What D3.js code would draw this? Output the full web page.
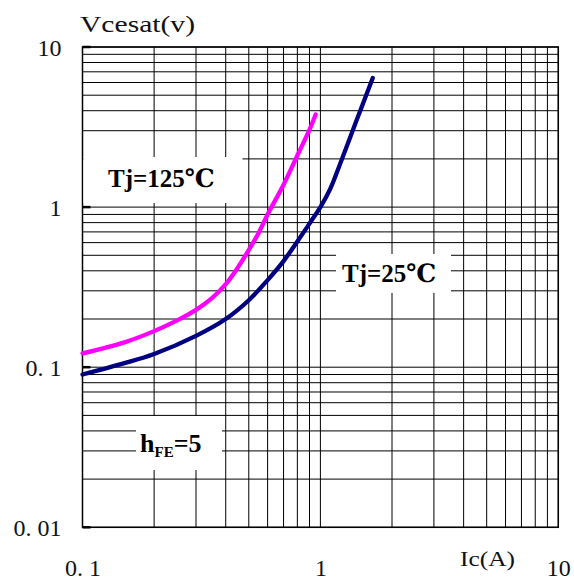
<!DOCTYPE html>
<html><head><meta charset="utf-8">
<script src="https://cdn.jsdelivr.net/npm/d3@7"></script>
<style>body{margin:0;background:#fff}</style>
</head><body>
<svg id="c" width="574" height="581"></svg>
<script>
// Data
const xTickValues = [0.1, 1, 10];
const xTickLabels = ["0. 1", "1", "10"];
const yTickValues = [0.01, 0.1, 1, 10];
const yTickLabels = ["0. 01", "0. 1", "1", "10"];
const icHot = [0.1, 0.15, 0.2, 0.25, 0.3, 0.35, 0.4, 0.45, 0.5, 0.55, 0.6, 0.7, 0.8, 0.9, 0.955];
const vHot  = [0.122, 0.143, 0.168, 0.196, 0.228, 0.27, 0.33, 0.42, 0.54, 0.69, 0.9, 1.38, 2.1, 3.05, 3.79];
const icCold = [0.1, 0.15, 0.2, 0.3, 0.4, 0.5, 0.6, 0.7, 0.8, 0.9, 1.0, 1.1, 1.2, 1.4, 1.66];
const vCold  = [0.090, 0.106, 0.121, 0.157, 0.20, 0.262, 0.35, 0.46, 0.61, 0.79, 1.0, 1.3, 1.8, 3.3, 6.4];

const svg = d3.select("#c");
const L = 82.5, R = 558.3, T = 47, B = 527.3;
const x = d3.scaleLog().domain([0.1, 10]).range([L, R]);
const y = d3.scaleLog().domain([0.01, 10]).range([B, T]);

const xGrid = [], yGrid = [];
for (let d = 0.1; d < 10; d *= 10) for (let k = 1; k <= 10; k++) xGrid.push(+(d * k).toPrecision(3));
for (let d = 0.01; d < 10; d *= 10) for (let k = 1; k <= 10; k++) yGrid.push(+(d * k).toPrecision(3));

const g = svg.append("g");
g.selectAll("line.vx").data(Array.from(new Set(xGrid))).join("line")
  .attr("x1", d => x(d)).attr("x2", d => x(d)).attr("y1", T).attr("y2", B)
  .attr("stroke", "#000").attr("stroke-width", 1);
g.selectAll("line.hy").data(Array.from(new Set(yGrid))).join("line")
  .attr("y1", d => y(d)).attr("y2", d => y(d)).attr("x1", L).attr("x2", R)
  .attr("stroke", "#000").attr("stroke-width", 1);
// frame
g.append("rect").attr("x", L).attr("y", T).attr("width", R - L).attr("height", B - T)
  .attr("fill", "none").attr("stroke", "#000").attr("stroke-width", 1.5);
// small major ticks at left edge
g.selectAll("line.mt").data(yTickValues).join("line")
  .attr("x1", L).attr("x2", L + 8).attr("y1", d => y(d)).attr("y2", d => y(d))
  .attr("stroke", "#000").attr("stroke-width", 2.5);

// label boxes (white)
const boxes = [[83.5, 157, 159, 46], [336, 254, 115, 39], [136, 416, 86, 54]];
svg.selectAll("rect.box").data(boxes).join("rect")
  .attr("x", d => d[0]).attr("y", d => d[1]).attr("width", d => d[2]).attr("height", d => d[3])
  .attr("fill", "#fff");

// curves
const line = d3.line().x(d => x(d[0])).y(d => y(d[1])).curve(d3.curveCatmullRom.alpha(0.5));
svg.append("path").datum(icHot.map((v, i) => [v, vHot[i]]))
  .attr("d", line).attr("fill", "none").attr("stroke", "#ff00ff").attr("stroke-width", 4.3)
  .attr("stroke-linecap", "round");
svg.append("path").datum(icCold.map((v, i) => [v, vCold[i]]))
  .attr("d", line).attr("fill", "none").attr("stroke", "#000080").attr("stroke-width", 4.3)
  .attr("stroke-linecap", "round");

// axes labels
const font = "'Liberation Serif', 'DejaVu Serif', serif";
const ax = svg.append("g").attr("transform", `translate(0,${B})`)
  .call(d3.axisBottom(x).tickValues(xTickValues).tickFormat((d, i) => xTickLabels[i]).tickSize(0).tickPadding(32));
ax.select(".domain").remove();
ax.selectAll("text").attr("font-family", font).attr("font-size", 24).attr("fill", "#111");
const ay = svg.append("g").attr("transform", `translate(${L},0)`)
  .call(d3.axisLeft(y).tickValues(yTickValues).tickFormat((d, i) => yTickLabels[i]).tickSize(0).tickPadding(21));
ay.select(".domain").remove();
ay.selectAll("text").attr("font-family", font).attr("font-size", 24).attr("fill", "#111").attr("dy", "0.36em");

svg.append("text").attr("x", 80).attr("y", 32).attr("font-family", font).attr("font-size", 24)
  .attr("textLength", 115).attr("lengthAdjust", "spacingAndGlyphs").attr("fill", "#111").text("Vcesat(v)");
svg.append("text").attr("x", 460).attr("y", 566).attr("font-family", font).attr("font-size", 22)
  .attr("textLength", 55).attr("lengthAdjust", "spacingAndGlyphs").attr("fill", "#111").text("Ic(A)");

// annotations
const bfont = "'Liberation Serif', 'DejaVu Serif', serif";
svg.append("text").attr("x", 108).attr("y", 187).attr("font-family", bfont).attr("font-weight", "bold")
  .attr("font-size", 25).text("Tj=125℃");
svg.append("text").attr("x", 342).attr("y", 282).attr("font-family", bfont).attr("font-weight", "bold")
  .attr("font-size", 25).text("Tj=25℃");
const h = svg.append("text").attr("x", 140).attr("y", 452).attr("font-family", bfont).attr("font-weight", "bold")
  .attr("font-size", 26);
h.append("tspan").text("h");
h.append("tspan").attr("font-size", 15).attr("dy", 5).text("FE");
h.append("tspan").attr("dy", -5).text("=5");
</script>
</body></html>
